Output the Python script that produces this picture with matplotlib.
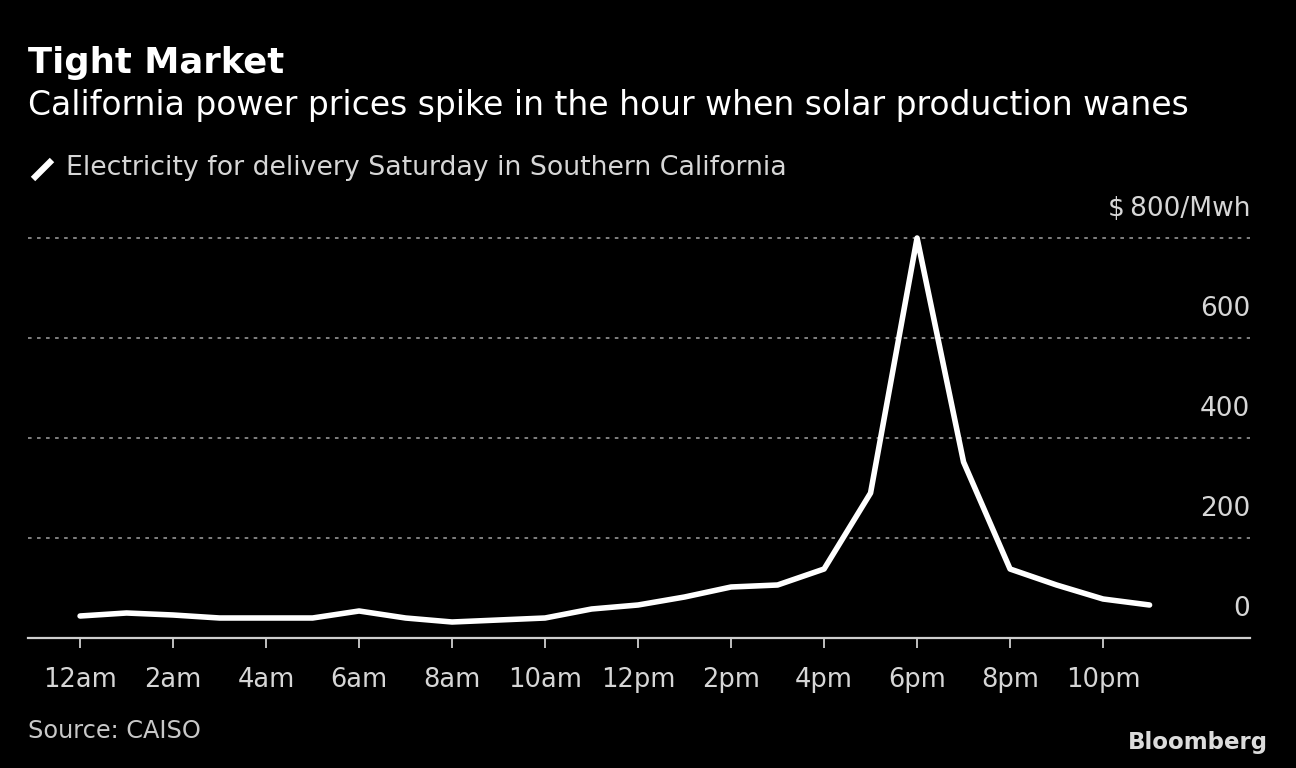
import matplotlib
matplotlib.use("Agg")
import matplotlib.pyplot as plt
from matplotlib import font_manager
from matplotlib.lines import Line2D

# hourly prices, $/Mwh, Saturday delivery (SP15)
hours = list(range(24))
prices = [44, 50, 46, 40, 40, 40, 54, 40, 32, 36, 40, 58,
          66, 82, 102, 106, 138, 290, 800, 352, 138, 106, 78, 66]
tick_hours = [0, 2, 4, 6, 8, 10, 12, 14, 16, 18, 20, 22]
tick_labels = ["12am", "2am", "4am", "6am", "8am", "10am",
               "12pm", "2pm", "4pm", "6pm", "8pm", "10pm"]
y_ticks = [0, 200, 400, 600, 800]
y_labels = ["0", "200", "400", "600", "$\u2009800/Mwh"]

installed = {f.name for f in font_manager.fontManager.ttflist}
font = "DejaVu Sans"
for name in ["DejaVu Sans Condensed", "Liberation Sans Narrow"]:
    if name in installed:
        font = name
        break
plt.rcParams["font.family"] = [font, "DejaVu Sans"]

fig = plt.figure(figsize=(12.96, 7.68), dpi=100, facecolor="black")
ax = fig.add_axes([28 / 1296, 1 - 638 / 768, (1250 - 28) / 1296, (638 - 213) / 768])
ax.set_facecolor("black")

ax.plot(hours, prices, color="white", lw=4, solid_joinstyle="round",
        solid_capstyle="round", clip_on=False, zorder=3)

ax.set_xlim(-1.12, 25.16)
ax.set_ylim(0, 850)

for v in y_ticks[1:]:
    ax.axhline(v, color="#8a8a8a", lw=1.3, ls=(0, (2, 3)), zorder=1)
for v, lab in zip(y_ticks, y_labels):
    ax.annotate(lab, xy=(1, v), xycoords=("axes fraction", "data"),
                xytext=(0, 29), textcoords="offset pixels",
                ha="right", va="center", color="#d6d6d6", fontsize=19)

for s in ["top", "right", "left"]:
    ax.spines[s].set_visible(False)
ax.spines["bottom"].set_color("#cfcfcf")
ax.spines["bottom"].set_linewidth(1.6)
ax.set_yticks([])
ax.set_xticks(tick_hours)
ax.set_xticklabels(tick_labels, color="#d6d6d6", fontsize=18.5)
ax.tick_params(axis="x", colors="#cfcfcf", length=7, width=1.3, pad=14,
               labelcolor="#d6d6d6")

fig.text(28 / 1296, 1 - 63 / 768, "Tight Market", color="white",
         fontsize=25.5, fontweight="bold", va="center", ha="left")
fig.text(28 / 1296, 1 - 105 / 768,
         "California power prices spike in the hour when solar production wanes",
         color="white", fontsize=23.8, va="center", ha="left")
fig.add_artist(Line2D([33 / 1296, 52 / 1296], [1 - 179 / 768, 1 - 160 / 768],
                      transform=fig.transFigure, color="white", lw=4.5,
                      solid_capstyle="butt"))
fig.text(66 / 1296, 1 - 168 / 768,
         "Electricity for delivery Saturday in Southern California",
         color="#d6d6d6", fontsize=19.3, va="center", ha="left")
fig.text(28 / 1296, 1 - 731 / 768, "Source: CAISO", color="#c8c8c8",
         fontsize=17.3, va="center", ha="left")
fig.text(1268 / 1296, 1 - 742 / 768, "Bloomberg", color="#dcdcdc",
         fontsize=16.5, fontweight="bold", va="center", ha="right")

fig.savefig("out.png", dpi=100, facecolor="black")
